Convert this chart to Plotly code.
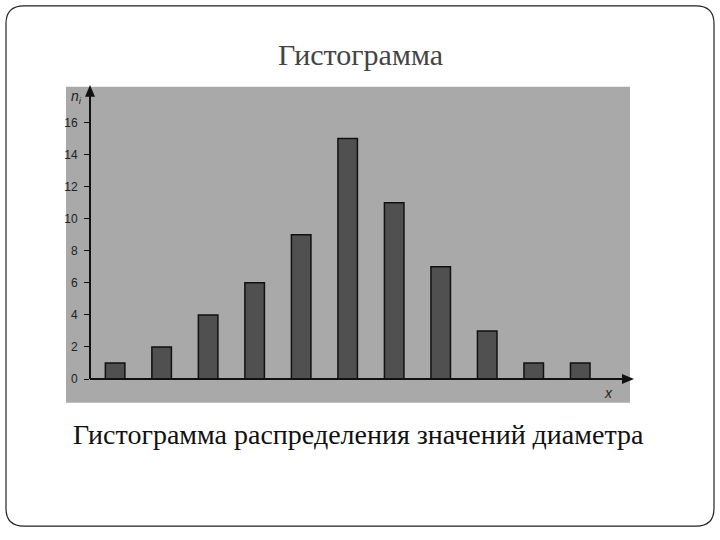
import plotly.graph_objects as go

# histogram data
classes = [1, 2, 3, 4, 5, 6, 7, 8, 9, 10, 11]
counts = [1, 2, 4, 6, 9, 15, 11, 7, 3, 1, 1]
y_ticks = [0, 2, 4, 6, 8, 10, 12, 14, 16]

W, H = 720, 540


def px(x):
    return x / W


def py(y):
    return 1 - y / H


fig = go.Figure(go.Bar(
    x=classes, y=counts, width=0.42,
    marker=dict(color='#505050', line=dict(color='#111111', width=1.5)),
))

fig.update_layout(
    width=W, height=H,
    margin=dict(l=0, r=0, t=0, b=0),
    paper_bgcolor='white', plot_bgcolor='rgba(0,0,0,0)',
    showlegend=False,
    xaxis=dict(domain=[px(90), px(630)], range=[0.46, 12.07], showticklabels=False,
               showgrid=False, zeroline=False, showline=False, ticks=''),
    yaxis=dict(domain=[py(384), py(90)], range=[0, 18.1], tickvals=y_ticks,
               showgrid=False, zeroline=False, showline=False,
               ticks='outside', ticklen=5, tickcolor='#111', ticklabelstandoff=4,
               tickfont=dict(family='Liberation Sans', size=12, color='#222')),
    font=dict(family='Liberation Serif'),
)

x0, x1, y0, y1 = px(6), px(714), py(533), py(6)
shapes = [
    # slide border
    dict(type='path', xref='paper', yref='paper',
         path=f'M {x0+0.025},{y0} L {x1-0.025},{y0} Q {x1},{y0} {x1},{y0+0.033} '
              f'L {x1},{y1-0.033} Q {x1},{y1} {x1-0.025},{y1} L {x0+0.025},{y1} '
              f'Q {x0},{y1} {x0},{y1-0.033} L {x0},{y0+0.033} Q {x0},{y0} {x0+0.025},{y0} Z',
         line=dict(color='#222', width=1.2), layer='below'),
    # grey scanned background
    dict(type='rect', xref='paper', yref='paper', x0=px(66), x1=px(630),
         y0=py(408), y1=py(88), fillcolor='#a9a9a9', line=dict(width=0), layer='below'),
    # axes
    dict(type='line', xref='paper', yref='paper', x0=px(90), x1=px(626),
         y0=py(384), y1=py(384), line=dict(color='#111', width=2)),
    dict(type='line', xref='paper', yref='paper', x0=px(90), x1=px(90),
         y0=py(384), y1=py(94), line=dict(color='#111', width=2)),
    # arrow heads
    dict(type='path', xref='paper', yref='paper',
         path=f'M {px(634)},{py(384)} L {px(622)},{py(379)} L {px(622)},{py(389)} Z',
         fillcolor='#111', line=dict(width=0)),
    dict(type='path', xref='paper', yref='paper',
         path=f'M {px(90)},{py(86)} L {px(85)},{py(98)} L {px(95)},{py(98)} Z',
         fillcolor='#111', line=dict(width=0)),
]
fig.update_layout(shapes=shapes)


def label(x, y, text, size, family='Liberation Serif', color='#222'):
    fig.add_annotation(xref='paper', yref='paper', x=px(x), y=py(y), text=text,
                       xanchor='center', yanchor='middle', showarrow=False,
                       font=dict(family=family, size=size, color=color))


label(360, 55, 'Гистограмма', 30, color='#444')
label(358, 440, 'Гистограмма распределения значений диаметра', 28, color='#111')
label(76, 98, '<i>n<sub>i</sub></i>', 14, family='Liberation Sans')
label(608, 398, '<i>x</i>', 14, family='Liberation Sans')

fig.write_html('out.html', config={'displayModeBar': False},
               post_script="document.body.style.margin='0';")
